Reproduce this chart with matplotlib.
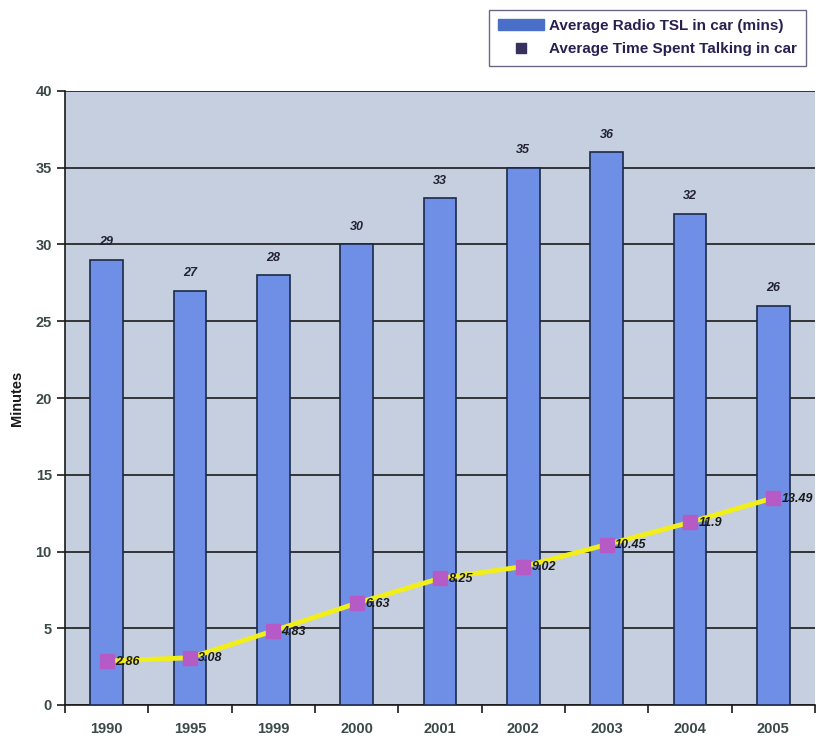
import matplotlib
matplotlib.use("Agg")
import matplotlib.pyplot as plt
from matplotlib.patches import Patch
from matplotlib.lines import Line2D
import numpy as np

years = ["1990", "1995", "1999", "2000", "2001", "2002", "2003", "2004", "2005"]
radio_tsl = [29, 27, 28, 30, 33, 35, 36, 32, 26]
talking = [2.86, 3.08, 4.83, 6.63, 8.25, 9.02, 10.45, 11.9, 13.49]
talk_labels = ["2.86", "3.08", "4.83", "6.63", "8.25", "9.02", "10.45", "11.9", "13.49"]
y_ticks = [0, 5, 10, 15, 20, 25, 30, 35, 40]

plt.rcParams['font.family'] = ['Liberation Sans', 'DejaVu Sans']
fig = plt.figure(figsize=(8.23, 7.39), dpi=100)
ax = fig.add_axes([65/823, 1-705/739, 750/823, (705-91)/739])
ax.set_facecolor('#c6cfdf')
x = np.arange(len(years))
ax.bar(x, radio_tsl, width=0.39, color='#6f8fe6', edgecolor='#1c2a4a', linewidth=1.2, zorder=3)
ax.plot(x, talking, color='#f2ee1a', linewidth=3.5, zorder=4)
ax.plot(x, talking, linestyle='none', marker='s', markersize=10, markerfacecolor='#b65bc6',
        markeredgecolor='#b65bc6', zorder=5)
for xi, v in zip(x, radio_tsl):
    ax.text(xi, v + 0.75, str(v), ha='center', va='bottom', fontsize=9, style='italic',
            fontweight='bold', color='#222233', zorder=6)
for xi, v, lab in zip(x, talking, talk_labels):
    ax.text(xi + 0.1, v - 0.05, lab, ha='left', va='center', fontsize=9, style='italic',
            fontweight='bold', color='#1a1a1a', zorder=6)

ax.set_xlim(-0.5, len(years) - 0.5)
ax.set_ylim(0, 40)
ax.set_yticks(y_ticks)
ax.set_yticklabels([str(t) for t in y_ticks], fontsize=10.5, fontweight='bold', color='#3b4a48')
ax.yaxis.grid(True, color='#1a1a1a', linewidth=1.2, zorder=1)
ax.set_axisbelow(True)
ax.set_xticks(x)
ax.set_xticklabels(years, fontsize=10.5, fontweight='bold', color='#3b4a48')
ax.tick_params(axis='x', length=0, pad=12)
ax.set_xticks(np.arange(-0.5, len(years), 1), minor=True)
ax.tick_params(axis='x', which='minor', length=6, width=1.2, color='#1a1a1a', direction='out')
ax.tick_params(axis='y', length=6, width=1.2, color='#1a1a1a', direction='out')
for s in ['top', 'right']:
    ax.spines[s].set_visible(False)
ax.spines['left'].set_color('#1a1a1a')
ax.spines['left'].set_linewidth(1.2)
ax.spines['bottom'].set_color('#1a1a1a')
ax.spines['bottom'].set_linewidth(1.2)
ax.set_ylabel('Minutes', fontsize=10.5, fontweight='bold', color='#1a1a1a', labelpad=8)

handles = [Patch(facecolor='#4a6fc8', edgecolor='#4a6fc8'),
           Line2D([], [], linestyle='none', marker='s', markersize=7, color='#3a3060')]
leg = fig.legend(handles, ['Average Radio TSL in car (mins)', 'Average Time Spent Talking in car'],
                 loc='upper left', bbox_to_anchor=(489/823, 1-10/739), fontsize=11,
                 frameon=True, fancybox=False, edgecolor='#444466', handlelength=3.0,
                 handletextpad=0.3, borderpad=0.6, labelspacing=0.6, borderaxespad=0)
for t in leg.get_texts():
    t.set_color('#2a2050')
    t.set_fontweight('bold')
fig.savefig('out.png', dpi=100, facecolor='white')
